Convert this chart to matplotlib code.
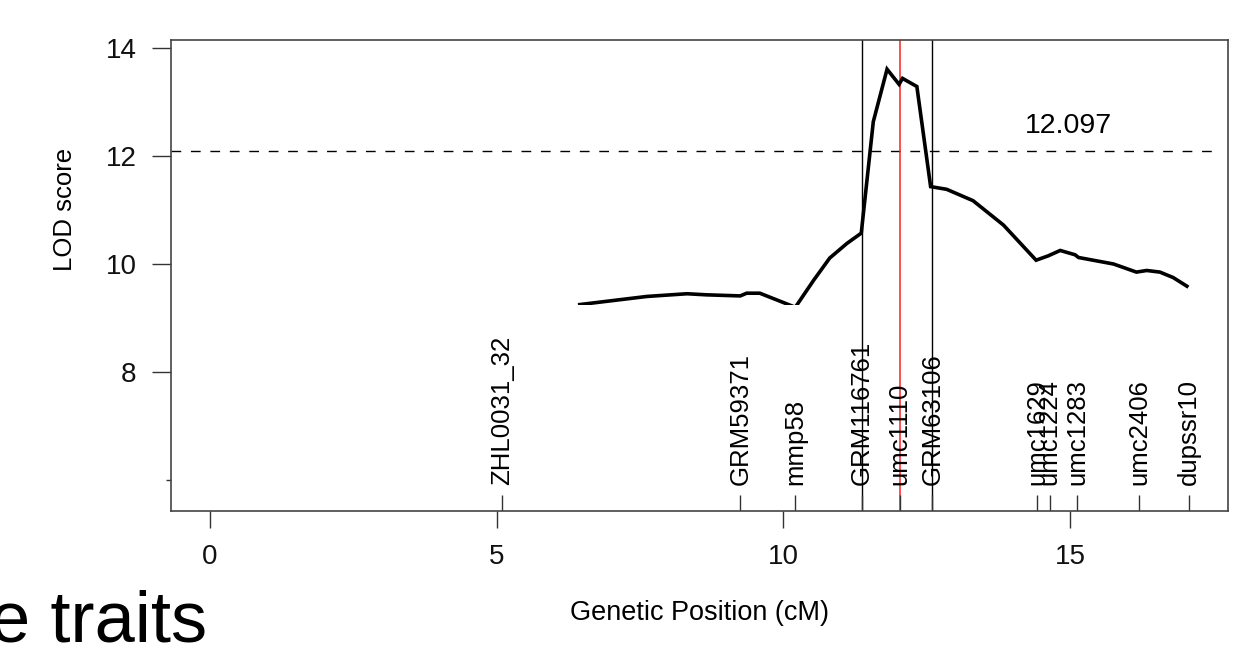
import matplotlib
matplotlib.use("Agg")
import matplotlib.pyplot as plt
from matplotlib.patches import Rectangle

plt.rcParams['font.family'] = ['Liberation Sans', 'DejaVu Sans']

# LOD profile, only the part above the cut-off is visible in the source
pos_cm = [6.45, 7.62, 8.32, 8.66, 9.25, 9.36, 9.59, 10.21, 10.53, 10.81, 11.11, 11.36,
          11.57, 11.81, 12.02, 12.08, 12.33, 12.57, 12.85, 13.31, 13.84, 14.41, 14.62,
          14.83, 15.09, 15.15, 15.76, 16.16, 16.34, 16.57, 16.80, 17.04]
lod = [9.25, 9.40, 9.45, 9.43, 9.41, 9.46, 9.46, 9.20, 9.70, 10.11, 10.38, 10.57,
       12.63, 13.60, 13.32, 13.43, 13.28, 11.43, 11.38, 11.17, 10.72, 10.07, 10.15,
       10.25, 10.17, 10.12, 10.00, 9.85, 9.88, 9.85, 9.75, 9.59]

# markers on the linkage group
marker_names = ['ZHL0031_32', 'GRM59371', 'mmp58', 'GRM116761', 'umc1110', 'GRM63106',
                'umc1629', 'umc1224', 'umc1283', 'umc2406', 'dupssr10']
marker_pos = [5.10, 9.25, 10.21, 11.37, 12.03, 12.60, 14.43, 14.65, 15.13, 16.21, 17.07]

threshold = 12.097
ci_bounds = [11.37, 12.60]
peak_pos = 12.03
clip_lod = 9.233

fig = plt.figure(figsize=(12.38, 6.45), dpi=100)
ax = fig.add_axes([0.1384, 0.2082, 0.8535, 0.7298])
ax.set_xlim(-0.675, 17.757)
ax.set_ylim(5.44, 14.14)

# curve, clipped like the source
line, = ax.plot(pos_cm, lod, color='black', lw=2.6, solid_joinstyle='miter', zorder=3)
clip = Rectangle((-1, clip_lod), 20, 10, transform=ax.transData, visible=False)
ax.add_patch(clip)
line.set_clip_path(clip)

ax.axhline(threshold, color='black', lw=1.0, dashes=(7, 7), xmax=0.99)
ax.text(14.97, 12.43, f"{threshold:.3f}", ha='center', va='baseline', fontsize=20.5)

for b in ci_bounds:
    ax.axvline(b, color='black', lw=1.0)
ax.axvline(peak_pos, color='#ff2020', lw=1.1)

# marker ticks and names
ax.vlines(marker_pos, 0, 0.033, transform=ax.get_xaxis_transform(), color='#333333', lw=1.0)
for name, p in zip(marker_names, marker_pos):
    ax.text(p, 0.055, name, rotation=90, ha='center', va='bottom', fontsize=18.5,
            transform=ax.get_xaxis_transform())

ax.set_xticks([0, 5, 10, 15])
ax.set_yticks([8, 10, 12, 14])
ax.set_yticks([6], minor=True)
ax.tick_params(axis='x', length=12, width=1.0, pad=12, labelsize=20, labelcolor='#111111',
               color='#333333')
ax.tick_params(axis='y', which='major', length=14, width=1.0, pad=11, labelsize=20,
               labelcolor='#111111', color='#333333')
ax.tick_params(axis='y', which='minor', length=3.5, width=1.0, color='#333333')
for s in ax.spines.values():
    s.set_color('#444444')
    s.set_linewidth(1.2)

ax.set_xlabel("Genetic Position (cM)", fontsize=19.5)
ax.xaxis.set_label_coords(0.5, -0.19)
ax.set_ylabel("LOD score", fontsize=18.5)
ax.yaxis.set_label_coords(-0.089, 0.641)

# leftover slide text at the bottom left
fig.text(-10 / 1238, 3 / 645, "e traits", fontsize=52, ha='left', va='baseline')

fig.savefig("out.png", dpi=100)
